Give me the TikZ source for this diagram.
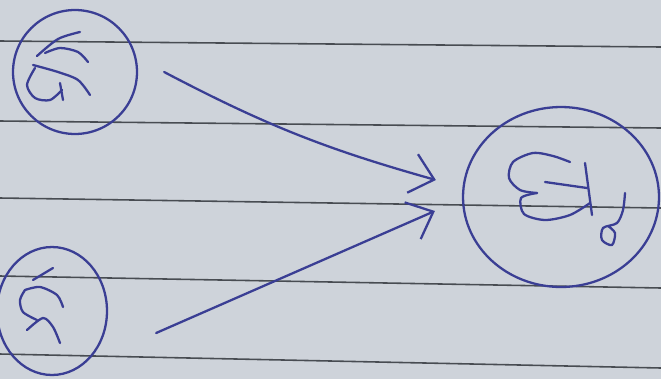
\documentclass[tikz,border=0pt]{standalone}
\usetikzlibrary{shapes.geometric, arrows.meta, positioning, calc}
\definecolor{paper}{RGB}{206,211,218}
\definecolor{ink}{RGB}{58,62,148}
\definecolor{rule}{RGB}{72,76,82}

\begin{document}
\begin{tikzpicture}[x=0.02cm, y=-0.02cm, >={Straight Barb[length=0.45cm, width=0.8cm]}]
        \tikzstyle{pen} = [draw=ink, line width=1.3pt, line cap=round, line join=round]
        \tikzstyle{ring} = [pen, ellipse, inner sep=0pt]
        \tikzstyle{ruled} = [draw=rule, line width=0.9pt]

        % --- paper ---
        \fill [paper] (0,0) rectangle (661,379);
        \useasboundingbox (0,0) rectangle (661,379);
        \foreach \ya/\yb in {41/47, 121/128, 198/208, 276/288, 354/368}
            \draw [ruled] (0,\ya) -- (661,\yb);

        % --- rings ---
        \node [ring, minimum width=2.48cm, minimum height=2.48cm] (ka) at (75,72) {};
        \node [ring, minimum width=2.2cm, minimum height=2.56cm] (ga) at (52,311) {};
        \node [ring, minimum width=3.92cm, minimum height=3.6cm] (tu) at (561,197) {};

        % --- free ends of the arrows ---
        \coordinate [right=0.52cm of ka.east] (tailA);
        \coordinate [right=0.96cm of ga.east, yshift=-0.44cm] (tailB);
        \coordinate [left=0.52cm of tu.west, yshift=0.34cm] (tipA);
        \coordinate [left=0.54cm of tu.west, yshift=-0.28cm] (tipB);

        \draw [pen, ->] (tailA) to[bend right=6] (tipA);
        \draw [pen, ->] (tailB) -- (tipB);

        % --- handwritten marks ---
        % top left
        \draw [pen] plot[smooth] coordinates {(80,32) (58,39) (37,56)};
        \draw [pen] plot[smooth] coordinates {(45,53) (60,48) (78,52) (88,62)};
        \draw [pen] plot[smooth] coordinates {(33,65) (58,72) (78,80) (90,95)};
        \draw [pen] plot[smooth] coordinates {(35,68) (27,85) (35,98) (50,100) (62,90)};
        \draw [pen] plot[smooth] coordinates {(60,83) (63,100)};
        % bottom left
        \draw [pen] plot[smooth] coordinates {(33,280) (53,268)};
        \draw [pen] plot[smooth] coordinates {(25,290) (40,287) (57,295) (63,307)};
        \draw [pen] plot[smooth] coordinates {(25,290) (20,300) (23,312) (37,320)};
        \draw [pen] plot[smooth] coordinates {(27,330) (43,318) (53,327) (60,343)};
        % right
        \draw [pen] plot[smooth] coordinates {(570,162) (553,156) (533,153) (513,162) (509,178) (520,190) (537,193)};
        \draw [pen] plot[smooth] coordinates {(537,193) (521,198) (524,214) (545,220) (570,215) (590,203)};
        \draw [pen] (545,182) -- (587,188);
        \draw [pen] (585,163) -- (592,215);
        \draw [pen] plot[smooth] coordinates {(625,193) (623,210) (617,223) (603,228) (602,240) (612,245) (615,233) (608,226)};
\end{tikzpicture}
\end{document}
